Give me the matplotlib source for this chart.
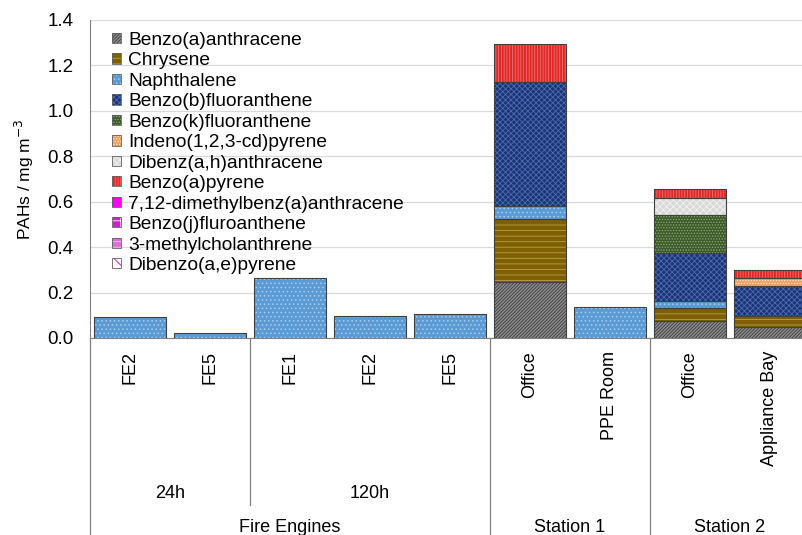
import matplotlib
matplotlib.use("Agg")
import matplotlib.pyplot as plt
from matplotlib.patches import Patch
from matplotlib.lines import Line2D
from matplotlib.legend_handler import HandlerTuple
import numpy as np

plt.rcParams['font.family'] = ['Liberation Sans', 'DejaVu Sans']
plt.rcParams['hatch.linewidth'] = 0.6

# ---- data ----
sublabels = ["FE2", "FE5", "FE1", "FE2", "FE5", "Office", "PPE Room", "Office", "Appliance Bay"]
mid_labels = ["24h", "120h"]
top_labels = ["Fire Engines", "Station 1", "Station 2"]

series_names = ["Benzo(a)anthracene", "Chrysene", "Naphthalene", "Benzo(b)fluoranthene",
                "Benzo(k)fluoranthene", "Indeno(1,2,3-cd)pyrene", "Dibenz(a,h)anthracene",
                "Benzo(a)pyrene", "7,12-dimethylbenz(a)anthracene", "Benzo(j)fluroanthene",
                "3-methylcholanthrene", "Dibenzo(a,e)pyrene"]

baa   = [0, 0, 0, 0, 0, 0.245, 0, 0.076, 0.050]
chr_  = [0, 0, 0, 0, 0, 0.278, 0, 0.055, 0.048]
naph  = [0.093, 0.022, 0.264, 0.097, 0.106, 0.058, 0.137, 0.033, 0.0]
bbf   = [0, 0, 0, 0, 0, 0.548, 0, 0.212, 0.131]
bkf   = [0, 0, 0, 0, 0, 0, 0, 0.166, 0]
indp  = [0, 0, 0, 0, 0, 0, 0, 0, 0.037]
dbaha = [0, 0, 0, 0, 0, 0, 0, 0.073, 0]
bap   = [0, 0, 0, 0, 0, 0.165, 0, 0.041, 0.034]
dmba  = [0, 0, 0, 0, 0, 0, 0, 0, 0]
bjf   = [0, 0, 0, 0, 0, 0, 0, 0, 0]
mc3   = [0, 0, 0, 0, 0, 0, 0, 0, 0]
dbaep = [0, 0, 0, 0, 0, 0, 0, 0, 0]

series_values = [baa, chr_, naph, bbf, bkf, indp, dbaha, bap, dmba, bjf, mc3, dbaep]

# styles: (face, hatch, hatch colour)
styles = [
    ("#8c8c8c", "//////////", "#3c3c3c"),
    ("#7f6000", "---", "#b8a050"),
    ("#5b9bd5", "....", "#a8cdf0"),
    ("#1c3470", "xxxxxx", "#4a6cb8"),
    ("#3d5a2c", "......", "#8cb070"),
    ("#f0a060", "......", "#ffe6cc"),
    ("#d9d9d9", "xxxxx", "#f2f2f2"),
    ("#e02828", "||||||", "#f27070"),
    ("#ff00ff", "", "#ff00ff"),
    ("#cc22cc", "++", "#ffffff"),
    ("#da70d6", "---", "#f2c0f0"),
    ("#ffffff", "\\\\\\", "#cc00cc"),
]
edge_col = "#404040"

W, H = 802, 535
fig = plt.figure(figsize=(W / 100, H / 100), dpi=100)
ax_left, ax_right, ax_top, ax_bot = 90, 810, 20, 338
ax = fig.add_axes([ax_left / W, 1 - ax_bot / H, (ax_right - ax_left) / W, (ax_bot - ax_top) / H])

x = np.arange(len(sublabels))
bottom = np.zeros(len(sublabels))
width = 0.9
for vals, (fc, hatch, hc) in zip(series_values, styles):
    v = np.array(vals, dtype=float)
    ax.bar(x, v, width, bottom=bottom, color=fc, linewidth=0, zorder=2)
    if hatch:
        ax.bar(x, v, width, bottom=bottom, facecolor="none", edgecolor=hc,
               hatch=hatch, linewidth=0, zorder=3)
    mask = v > 0
    ax.bar(x[mask], v[mask], width, bottom=bottom[mask], facecolor="none",
           edgecolor=edge_col, linewidth=0.8, zorder=4)
    bottom += v

yt = np.arange(0, 1.41, 0.2)
ax.set_xlim(-0.5, len(sublabels) - 0.5)
ax.set_ylim(0, 1.4)
ax.set_yticks(yt)
ax.set_yticklabels([f"{t:.1f}" for t in yt], fontsize=13.5)
ax.tick_params(axis='y', length=0, pad=12)
ax.set_xticks([])
ax.yaxis.grid(True, color="#d9d9d9", linewidth=0.9, zorder=0)
ax.set_axisbelow(True)
for s in ["top", "right"]:
    ax.spines[s].set_visible(False)
ax.spines["left"].set_color("#808080")
ax.spines["bottom"].set_color("#808080")
ax.set_ylabel("PAHs / mg m$^{-3}$", fontsize=12.5, labelpad=8)


def fy(py):
    return 1 - py / H


for xi, lab in zip(x, sublabels):
    xp = ax_left + (xi + 0.5) * 80
    fig.text(xp / W, fy(351), lab, rotation=90, ha="center", va="top", fontsize=13)

mid_centres = [0.5, 3.0]
for c, lab in zip(mid_centres, mid_labels):
    xp = ax_left + (c + 0.5) * 80
    fig.text(xp / W, fy(493), lab, ha="center", va="center", fontsize=13)
top_centres = [2.0, 5.5, 7.5]
for c, lab in zip(top_centres, top_labels):
    xp = ax_left + (c + 0.5) * 80
    fig.text(xp / W, fy(527), lab, ha="center", va="center", fontsize=13)

sep_col = "#808080"
for xp, y1 in [(90, 535), (250, 505), (490, 535), (650, 535)]:
    fig.add_artist(Line2D([xp / W, xp / W], [fy(338), fy(y1)], color=sep_col, linewidth=0.9))

# ---- legend ----
handles = []
for (fc, hatch, hc) in styles:
    parts = [Patch(facecolor=fc, edgecolor="none", linewidth=0)]
    if hatch:
        parts.append(Patch(facecolor="none", edgecolor=hc, hatch=hatch, linewidth=0))
    parts.append(Patch(facecolor="none", edgecolor="#606060", linewidth=0.6))
    handles.append(tuple(parts))
leg = fig.legend(handles, series_names, loc="upper left",
                 bbox_to_anchor=(112 / W, fy(32)), frameon=False, fontsize=13.8,
                 handlelength=0.45, handleheight=0.45, handletextpad=0.4,
                 labelspacing=0.18, borderpad=0, borderaxespad=0,
                 handler_map={tuple: HandlerTuple(ndivide=1, pad=0)})

fig.savefig("out.png", dpi=100)
